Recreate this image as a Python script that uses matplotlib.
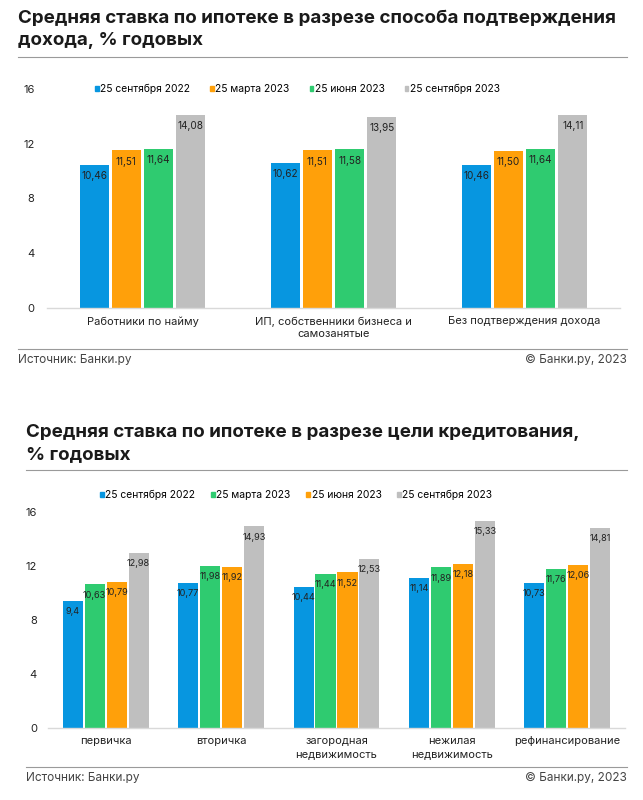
import matplotlib
matplotlib.use("Agg")
import matplotlib.pyplot as plt
from matplotlib.lines import Line2D
from matplotlib.patches import Patch
import numpy as np

plt.rcParams['font.family'] = ['Inter', 'DejaVu Sans']

# ---------- data chart 1 ----------
cats1 = ["Работники по найму", "ИП, собственники бизнеса и\nсамозанятые", "Без подтверждения дохода"]
series1_names = ["25 сентября 2022", "25 марта 2023", "25 июня 2023", "25 сентября 2023"]
s1_sep22 = [10.46, 10.62, 10.46]
s1_mar23 = [11.51, 11.51, 11.50]
s1_jun23 = [11.64, 11.58, 11.64]
s1_sep23 = [14.08, 13.95, 14.11]
yticks1 = [0, 4, 8, 12, 16]

# ---------- data chart 2 ----------
cats2 = ["первичка", "вторичка", "загородная\nнедвижимость", "нежилая\nнедвижимость", "рефинансирование"]
series2_names = ["25 сентября 2022", "25 марта 2023", "25 июня 2023", "25 сентября 2023"]
s2_sep22 = [9.4, 10.77, 10.44, 11.14, 10.73]
s2_mar23 = [10.63, 11.98, 11.44, 11.89, 11.76]
s2_jun23 = [10.79, 11.92, 11.52, 12.18, 12.06]
s2_sep23 = [12.98, 14.93, 12.53, 15.33, 14.81]
s2_sep22_lbl = ["9,4", "10,77", "10,44", "11,14", "10,73"]
yticks2 = [0, 4, 8, 12, 16]

BLUE = "#0796e0"
ORANGE = "#ffa00a"
GREEN = "#2fcb70"
GREY = "#bfbfbf"

W, H = 643, 800
fig = plt.figure(figsize=(W / 100, H / 100), dpi=100)


def fx(px):
    return px / W


def fy(py):
    return 1 - py / H


def fmt(v):
    return f"{v:.2f}".replace(".", ",")


def draw(ax, cats, series, colors, labels, width, step, yt, ypad, lfs):
    x = np.arange(len(cats))
    n = len(series)
    for i, (vals, col, lbls) in enumerate(zip(series, colors, labels)):
        off = (i - (n - 1) / 2) * step
        ax.bar(x + off, vals, width=width, color=col, zorder=2)
        for xi, v, t in zip(x + off, vals, lbls):
            ax.text(xi, v - 0.45, t, ha="center", va="top", fontsize=lfs,
                    color="#222222", zorder=3)
    ax.set_xlim(-0.5, len(cats) - 0.5)
    ax.set_ylim(0, 16)
    ax.set_yticks(yt)
    ax.set_yticklabels([str(t) for t in yt], fontsize=8, color="#222222")
    ax.set_xticks(x)
    ax.set_xticklabels(cats, fontsize=8, color="#222222", linespacing=1.3)
    for s in ["top", "right", "left"]:
        ax.spines[s].set_visible(False)
    ax.spines["bottom"].set_color("#d9d9d9")
    ax.spines["bottom"].set_linewidth(1.0)
    ax.tick_params(axis="both", length=0)
    ax.tick_params(axis="y", pad=ypad)
    ax.tick_params(axis="x", pad=6)


leg_kw = dict(loc="center left", ncol=4, frameon=False, fontsize=7.4, handlelength=0.35,
              handleheight=0.35, handletextpad=0.15, borderpad=0, borderaxespad=0)

# ---------- chart 1 ----------
fig.text(fx(18), fy(10), "Средняя ставка по ипотеке в разрезе способа подтверждения\nдохода, % годовых",
         ha="left", va="top", fontsize=13.5, fontweight="bold", color="#1a1a1a", linespacing=1.4)
fig.add_artist(Line2D([fx(18), fx(627)], [fy(57), fy(57)], color="#9a9a9a", lw=0.8))

ax1 = fig.add_axes([fx(47), fy(308), fx(620) - fx(47), fy(89) - fy(308)])
cols1 = [BLUE, ORANGE, GREEN, GREY]
ser1 = [s1_sep22, s1_mar23, s1_jun23, s1_sep23]
draw(ax1, cats1, ser1, cols1, [[fmt(v) for v in s] for s in ser1], 0.152, 0.169, yticks1, 9, 7.2)
h1 = [Patch(color=c) for c in cols1]
fig.legend(h1, series1_names, bbox_to_anchor=(fx(95), fy(89)), columnspacing=1.95, **leg_kw)

fig.add_artist(Line2D([fx(18), fx(627)], [fy(349), fy(349)], color="#9a9a9a", lw=0.8))
fig.text(fx(18), fy(360), "Источник: Банки.ру", ha="left", va="center", fontsize=8.5, color="#444444")
fig.text(fx(627), fy(360), "© Банки.ру, 2023", ha="right", va="center", fontsize=8.5, color="#444444")

# ---------- chart 2 ----------
fig.text(fx(26), fy(424), "Средняя ставка по ипотеке в разрезе цели кредитования,\n% годовых",
         ha="left", va="top", fontsize=13.5, fontweight="bold", color="#1a1a1a", linespacing=1.4)
fig.add_artist(Line2D([fx(26), fx(627)], [fy(470), fy(470)], color="#9a9a9a", lw=0.8))

ax2 = fig.add_axes([fx(48), fy(728), fx(625) - fx(48), fy(512) - fy(728)])
cols2 = [BLUE, GREEN, ORANGE, GREY]
ser2 = [s2_sep22, s2_mar23, s2_jun23, s2_sep23]
lbl2 = [s2_sep22_lbl, [fmt(v) for v in s2_mar23], [fmt(v) for v in s2_jun23], [fmt(v) for v in s2_sep23]]
draw(ax2, cats2, ser2, cols2, lbl2, 0.174, 0.19, yticks2, 8, 6.6)
h2 = [Patch(color=c) for c in cols2]
fig.legend(h2, series2_names, bbox_to_anchor=(fx(100), fy(495)), columnspacing=1.55, **leg_kw)

fig.add_artist(Line2D([fx(26), fx(627)], [fy(767), fy(767)], color="#9a9a9a", lw=0.8))
fig.text(fx(26), fy(778), "Источник: Банки.ру", ha="left", va="center", fontsize=8.5, color="#444444")
fig.text(fx(627), fy(778), "© Банки.ру, 2023", ha="right", va="center", fontsize=8.5, color="#444444")

fig.savefig("out.png", dpi=100, facecolor="white")
